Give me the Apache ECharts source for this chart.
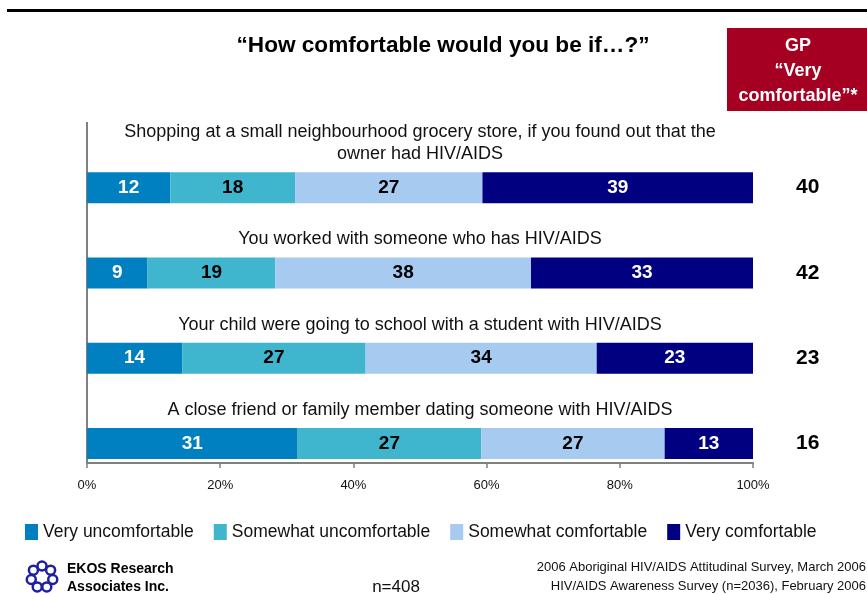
<!DOCTYPE html>
<html><head><meta charset="utf-8">
<script src="https://cdn.jsdelivr.net/npm/echarts@6/dist/echarts.min.js"></script>
<style>html,body{margin:0;padding:0;background:#fff}#c{width:867px;height:594px}</style>
</head><body><div id="c"></div>
<script>
var categories = [
  "Shopping at a small neighbourhood grocery store, if you found out that the\nowner had HIV/AIDS",
  "You worked with someone who has HIV/AIDS",
  "Your child were going to school with a student with HIV/AIDS",
  "A close friend or family member dating someone with HIV/AIDS"
];
var seriesNames = ["Very uncomfortable", "Somewhat uncomfortable", "Somewhat comfortable", "Very comfortable"];
var veryUncomfortable = [12, 9, 14, 31];
var somewhatUncomfortable = [18, 19, 27, 27];
var somewhatComfortable = [27, 38, 34, 27];
var veryComfortable = [39, 33, 23, 13];
var gpVeryComfortable = [40, 42, 23, 16];
var tickLabels = ["0%", "20%", "40%", "60%", "80%", "100%"];

var FONT = '"Liberation Sans", Arial, sans-serif';
var colors = ["#0080C0", "#40B6CE", "#A6CAF0", "#000080"];
var labelColors = ["#fff", "#000", "#000", "#fff"];
var raw = [veryUncomfortable, somewhatUncomfortable, somewhatComfortable, veryComfortable];
var totals = categories.map(function (_, i) { return raw.reduce(function (s, a) { return s + a[i]; }, 0); });

var series = raw.map(function (arr, k) {
  return {
    name: seriesNames[k], type: 'bar', stack: 'main', barWidth: 31, barGap: '-100%',
    itemStyle: { color: colors[k] },
    data: arr.map(function (v, i) { return { value: v / totals[i] * 100, raw: v }; }),
    label: { show: true, position: 'inside', color: labelColors[k], fontFamily: FONT, fontWeight: 'bold', fontSize: 19,
      formatter: function (p) { return p.data.raw; } },
    emphasis: { disabled: true }, silent: true
  };
});
series.push({
  name: 'cat', type: 'bar', barWidth: 31, barGap: '-100%', z: 1,
  itemStyle: { color: 'rgba(0,0,0,0)' },
  data: categories.map(function () { return 100; }),
  label: { show: true, position: 'top', distance: 7, color: '#111', fontFamily: FONT, fontSize: 18, lineHeight: 22, align: 'center',
    formatter: function (p) { return categories[p.dataIndex]; } },
  silent: true
});
series.push({
  name: 'gp', type: 'bar', barWidth: 31, barGap: '-100%', z: 1,
  itemStyle: { color: 'rgba(0,0,0,0)' },
  data: categories.map(function () { return 100; }),
  label: { show: true, position: 'right', distance: 43, color: '#000', fontFamily: FONT, fontWeight: 'bold', fontSize: 21,
    formatter: function (p) { return gpVeryComfortable[p.dataIndex]; } },
  silent: true
});

var logo = [];
for (var j = 0; j < 7; j++) {
  var a = j / 7 * Math.PI * 2 - Math.PI / 2;
  logo.push({ type: 'circle', shape: { cx: 42 + 11 * Math.cos(a), cy: 577 + 11 * Math.sin(a), r: 4.5 },
    style: { fill: 'none', stroke: '#1F1FA0', lineWidth: 2.5 } });
}

var chart = echarts.init(document.getElementById('c'), null, { renderer: 'canvas' });
chart.setOption({
  animation: false,
  backgroundColor: '#fff',
  grid: { left: 87, right: 114, top: 145, bottom: 108, containLabel: false },
  xAxis: {
    type: 'value', min: 0, max: 100, interval: 20, position: 'bottom', offset: -23,
    axisLine: { show: true, lineStyle: { color: '#808080', width: 2 } },
    axisTick: { show: true, length: 5, lineStyle: { color: '#808080', width: 1.5 } },
    splitLine: { show: false },
    axisLabel: { margin: 16, color: '#111', fontFamily: FONT, fontSize: 13,
      formatter: function (v) { return tickLabels[Math.round(v / 20)]; } }
  },
  yAxis: {
    type: 'category', inverse: true, data: categories,
    axisLine: { show: false }, axisTick: { show: false }, axisLabel: { show: false }
  },
  legend: {
    data: seriesNames, left: 20, right: 0, top: 518, icon: 'rect', itemWidth: 13, itemHeight: 16, itemGap: 20,
    textStyle: { fontFamily: FONT, fontSize: 17.5, color: '#111' }
  },
  series: series,
  graphic: [
    { type: 'rect', shape: { x: 7, y: 9, width: 860, height: 3 }, style: { fill: '#000' } },
    { type: 'line', shape: { x1: 87, y1: 122, x2: 87, y2: 463 }, style: { stroke: '#808080', lineWidth: 2 } },
    { type: 'text', x: 443, y: 46, style: { text: '\u201CHow comfortable would you be if\u2026?\u201D', fontFamily: FONT, fontWeight: 'bold', fontSize: 22.6, fill: '#000', align: 'center', verticalAlign: 'middle' } },
    { type: 'rect', shape: { x: 727, y: 28, width: 140, height: 83 }, style: { fill: '#A50021' } },
    { type: 'text', x: 798, y: 71, style: { text: 'GP\n\u201CVery\ncomfortable\u201D*', fontFamily: FONT, fontWeight: 'bold', fontSize: 18, lineHeight: 25, fill: '#fff', align: 'center', verticalAlign: 'middle' } },
    { type: 'text', x: 67, y: 569, style: { text: 'EKOS Research', fontFamily: FONT, fontWeight: 'bold', fontSize: 14, fill: '#000', verticalAlign: 'middle' } },
    { type: 'text', x: 67, y: 587, style: { text: 'Associates Inc.', fontFamily: FONT, fontWeight: 'bold', fontSize: 14, fill: '#000', verticalAlign: 'middle' } },
    { type: 'text', x: 396, y: 587, style: { text: 'n=408', fontFamily: FONT, fontSize: 17, fill: '#111', align: 'center', verticalAlign: 'middle' } },
    { type: 'text', x: 866, y: 567, style: { text: '2006 Aboriginal HIV/AIDS Attitudinal Survey, March 2006', fontFamily: FONT, fontSize: 13, fill: '#111', align: 'right', verticalAlign: 'middle' } },
    { type: 'text', x: 866, y: 586, style: { text: 'HIV/AIDS Awareness Survey (n=2036), February 2006', fontFamily: FONT, fontSize: 13, fill: '#111', align: 'right', verticalAlign: 'middle' } }
  ].concat(logo)
});
</script></body></html>
